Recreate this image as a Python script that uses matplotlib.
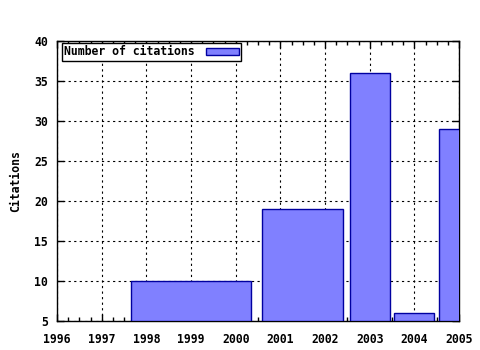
import matplotlib
matplotlib.use("Agg")
import matplotlib.pyplot as plt
import numpy as np

# year spans covered by each bar, and citation counts
start_year = [1998, 2001, 2003, 2004, 2005]
end_year = [2000, 2002, 2003, 2004, 2005]
citations = [10, 19, 36, 6, 29]

start = np.array(start_year)
end = np.array(end_year)
centers = (start + end) / 2
widths = (end - start + 1) * 0.9

plt.rcParams['font.family'] = ['DejaVu Sans Mono']
plt.rcParams['font.weight'] = 'bold'

fig = plt.figure(figsize=(4.8, 3.5), dpi=100)
ax = fig.add_axes([57/480, 29/350, 402/480, 280/350])

ax.bar(centers, np.array(citations) - 5, bottom=5, width=widths,
       color="#8080ff", edgecolor="#0000a0", linewidth=1.0,
       label="Number of citations", zorder=3)

ax.set_xlim(1996, 2005)
ax.set_ylim(5, 40)
ax.set_xticks(np.arange(1996, 2006, 1))
ax.set_xticks(np.arange(1996, 2005.01, 0.25), minor=True)
ax.set_yticks(np.arange(5, 41, 5))
ax.tick_params(which="both", direction="in", top=True, right=True,
               labelsize=8.3, width=1)
ax.tick_params(which="major", length=5)
ax.tick_params(which="minor", length=3)
ax.tick_params(axis="x", which="major", pad=8.5)
ax.tick_params(axis="y", which="major", pad=6.5)
ax.tick_params(axis="y", which="minor", left=False, right=False)

ax.grid(True, which="major", linestyle=(0, (2, 3)), color="black",
        linewidth=0.8, zorder=0)
ax.set_axisbelow(True)
for s in ax.spines.values():
    s.set_linewidth(1)

ax.set_ylabel("Citations", fontsize=8.3, fontweight="bold", labelpad=9)

leg = ax.legend(loc="upper left", bbox_to_anchor=(0.0125, 0.993),
                markerfirst=False, fancybox=False,
                edgecolor="black", framealpha=1, fontsize=8.3,
                borderaxespad=0, borderpad=0.2, handlelength=2.8,
                handleheight=0.55, handletextpad=1.0)
leg.get_frame().set_linewidth(1)

fig.savefig("out.png", dpi=100)
